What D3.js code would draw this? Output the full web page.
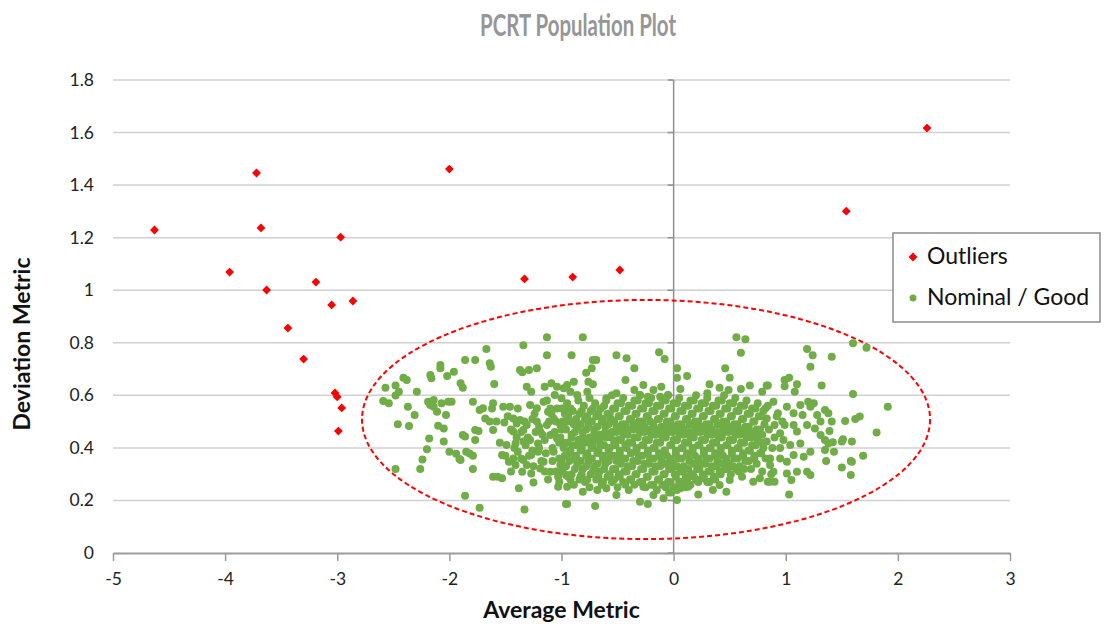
<!DOCTYPE html>
<html>
<head>
<meta charset="utf-8">
<script src="https://cdn.jsdelivr.net/npm/d3@7"></script>
<style>
  body { margin: 0; background: #fff; }
  text { font-family: Lato, "Open Sans", sans-serif; }
</style>
</head>
<body>
<svg id="chart" width="1107" height="624"></svg>
<script>
// axis ticks
var xTicks = [-5, -4, -3, -2, -1, 0, 1, 2, 3];
var yTicks = [0, 0.2, 0.4, 0.6, 0.8, 1, 1.2, 1.4, 1.6, 1.8];

// red outliers [avg, dev]
var outliers = [
  [-4.63, 1.229], [-3.96, 1.069], [-3.72, 1.446], [-3.68, 1.237], [-3.63, 1.001],
  [-3.44, 0.856], [-3.30, 0.738], [-3.19, 1.031], [-3.05, 0.944], [-3.02, 0.609],
  [-3.00, 0.594], [-2.97, 1.202], [-2.96, 0.552], [-2.99, 0.464], [-2.86, 0.959],
  [-2.00, 1.461], [-1.33, 1.043], [-0.90, 1.050], [-0.48, 1.077], [1.54, 1.301],
  [2.26, 1.617]
];

// green nominal points, outer / sparse part [avg, dev]
var nominalOuter = [
  [-2.57,0.629],[-2.48,0.637],[-2.41,0.667],[-2.38,0.658],[-2.45,0.614],[-2.48,0.599],[-2.59,0.578],
  [-2.54,0.570],[-2.29,0.614],[-2.37,0.557],[-2.46,0.490],[-2.36,0.483],[-2.31,0.525],[-2.48,0.320],
  [-2.26,0.320],[-2.24,0.356],[-2.20,0.395],[-2.18,0.436],[-2.08,0.715],[-2.08,0.703],[-2.17,0.677],
  [-2.16,0.665],[-2.19,0.576],[-2.14,0.582],[-2.17,0.563],[-2.14,0.557],[-2.11,0.538],[-2.07,0.570],
  [-2.03,0.525],[-2.01,0.576],[-1.98,0.576],[-2.02,0.674],[-1.96,0.690],[-2.10,0.484],[-2.05,0.474],
  [-2.05,0.424],[-2.00,0.385],[-1.94,0.378],[-1.91,0.358],[-1.90,0.646],[-1.88,0.629],[-1.86,0.734],
  [-1.86,0.218],[-1.88,0.449],[-1.85,0.385],
  [-1.77,0.734],[-1.67,0.776],[-1.64,0.722],[-1.63,0.709],[-1.34,0.791],[-1.13,0.821],[-1.13,0.753],
  [-1.37,0.696],[-1.35,0.688],[-1.29,0.696],[-1.22,0.703],[-1.60,0.643],[-1.79,0.576],[-1.61,0.570],
  [-1.73,0.544],[-1.70,0.551],[-1.68,0.512],[-1.64,0.500],[-1.61,0.468],[-1.77,0.468],[-1.74,0.464],
  [-1.86,0.443],[-1.77,0.430],[-1.82,0.379],[-1.79,0.370],[-1.79,0.320],[-1.73,0.172],[-1.33,0.166],
  [-1.61,0.290],[-1.57,0.290],[-1.53,0.284],[-1.38,0.246],[-1.25,0.268],[-1.03,0.252],[-0.96,0.186],
  [-1.52,0.557],[-1.46,0.557],[-1.51,0.497],[-1.43,0.512],[-1.37,0.506],[-1.31,0.487],[-1.28,0.563],
  [-1.22,0.551],[-1.31,0.633],[-1.27,0.614],[-1.15,0.633],[-1.09,0.646],[-1.04,0.633],[-1.06,0.601],
  [-1.16,0.576],[-1.12,0.538],[-1.43,0.462],[-1.49,0.411],[-1.41,0.417],[-1.34,0.424],[-1.28,0.430],
  [-1.53,0.373],[-1.47,0.347],[-1.41,0.335],[-1.34,0.354],[-1.27,0.373],[-1.21,0.385],[-1.16,0.347],
  [-1.10,0.309],[-1.35,0.309],[-1.27,0.303],[-1.19,0.462],[-1.13,0.487],[-1.07,0.512],[-1.01,0.487],
  [-1.04,0.436],[-0.98,0.411],[-1.07,0.385],[-1.01,0.335],[-0.96,0.297],[-1.10,0.449],[-1.22,0.500],
  [-1.39,0.385],[-1.43,0.360],[-1.31,0.335],[-1.19,0.322],[-1.21,0.417],[-1.34,0.468],[-1.40,0.493],
  [-0.97,0.551],[-1.00,0.589],[-0.95,0.639],[-1.90,0.354],
  [-1.48,0.52],[-1.45,0.47],[-1.42,0.40],[-1.39,0.55],[-1.36,0.36],[-1.33,0.50],[-1.30,0.44],
  [-1.26,0.39],[-1.24,0.53],[-1.20,0.48],[-1.18,0.35],[-1.15,0.43],[-1.13,0.58],[-1.11,0.50],
  [-1.08,0.40],[-1.06,0.46],[-1.04,0.55],[-1.02,0.36],[-1.05,0.31],[-1.12,0.28],[-1.25,0.33],
  [-1.45,0.31],[-1.55,0.42],[-1.58,0.50],[-1.50,0.37],[-1.62,0.55],
  [-1.02,0.42],[-1.05,0.50],[-1.08,0.35],[-1.10,0.55],[-1.14,0.38],[-1.17,0.45],[-1.20,0.40],
  [-1.23,0.46],[-1.26,0.51],[-1.29,0.37],[-1.32,0.41],[-1.36,0.46],[-1.40,0.44],[-1.03,0.29],
  [-1.15,0.31],[-1.09,0.53],[-1.00,0.47],
  [-0.81,0.821],[-0.91,0.753],[-0.72,0.734],[-0.69,0.734],[-0.51,0.753],[-0.42,0.741],[-0.35,0.703],
  [-0.73,0.703],[-0.78,0.686],[-0.76,0.652],[-0.72,0.642],[-0.89,0.652],[-0.13,0.764],[-0.08,0.738],
  [-0.43,0.658],[-0.35,0.620],[-0.27,0.639],[-0.18,0.620],[-0.11,0.633],[-0.98,0.627],[-0.92,0.614],
  [-0.86,0.601],[-0.77,0.614],[-0.51,0.608],[-0.60,0.589],[-0.30,0.601],[-0.23,0.595],[-0.12,0.595],
  [-0.05,0.601],
  [-0.95,0.186],[-0.70,0.179],[-0.81,0.233],[-0.68,0.240],[-0.83,0.290],[-0.51,0.221],[-0.30,0.195],
  [-0.23,0.186],[-0.18,0.221],[-0.09,0.208],[-0.27,0.252],[-0.60,0.246],[-0.95,0.252],
  [0.56,0.821],[0.64,0.813],[0.60,0.762],[0.03,0.703],[0.03,0.667],[0.12,0.674],[0.06,0.624],
  [0.46,0.703],[0.50,0.667],[0.32,0.642],[0.41,0.629],[0.49,0.620],[0.60,0.624],[0.68,0.637],
  [0.30,0.608],[0.79,0.614],[0.83,0.637],
  [0.03,0.202],[0.22,0.223],[0.35,0.240],[0.47,0.233],[0.41,0.259],[0.13,0.252],[0.06,0.246],
  [0.71,0.271],[0.77,0.284],[0.84,0.271],[0.50,0.278],[0.26,0.284],[0.18,0.290],
  [1.19,0.776],[1.24,0.753],[1.41,0.747],[1.22,0.709],[1.60,0.798],[1.72,0.781],[0.99,0.658],
  [1.03,0.667],[0.99,0.635],[1.10,0.642],[1.08,0.614],[1.32,0.637],[0.84,0.637],[1.60,0.605],
  [0.89,0.576],[1.01,0.557],[1.13,0.563],[1.20,0.576],[1.25,0.570],[1.22,0.557],[1.07,0.532],
  [1.15,0.525],[1.35,0.544],[1.38,0.532],[1.28,0.525],[1.53,0.502],[1.62,0.510],[1.66,0.519],
  [1.31,0.500],[1.41,0.500],[1.39,0.464],[1.26,0.474],[1.19,0.487],[1.07,0.487],[0.99,0.487],
  [0.90,0.487],[0.95,0.456],[1.10,0.462],[1.31,0.449],[1.35,0.430],[1.38,0.417],[1.42,0.421],
  [1.50,0.424],[1.51,0.433],[1.59,0.424],[1.35,0.392],[1.43,0.385],[1.22,0.385],[1.13,0.417],
  [1.04,0.411],[0.98,0.430],[1.36,0.350],[1.50,0.325],[1.58,0.350],[1.58,0.297],[1.69,0.370],
  [1.16,0.366],[1.07,0.373],[0.95,0.360],[1.01,0.347],[0.86,0.335],[0.89,0.309],[1.01,0.303],
  [1.10,0.309],[1.19,0.309],[1.22,0.297],[1.05,0.278],[0.86,0.271],[0.90,0.271],[1.03,0.223],
  [0.83,0.424],[0.82,0.551],[0.93,0.532],[0.83,0.512],[1.91,0.557],[1.81,0.459],[1.59,0.347],
  [0.85,0.47],[0.88,0.40],[0.92,0.52],[0.86,0.36],[0.90,0.44],[0.95,0.40],[0.97,0.50],[0.84,0.56],[0.87,0.30]
];

// green nominal points, dense core [avg, dev]
var nominalCore = [
  [-1.00,0.55],[-0.99,0.50],[-1.01,0.44],[-0.98,0.40],[-1.00,0.35],[-0.99,0.31],[-1.02,0.27],
  [-0.95,0.57],[-0.94,0.52],[-0.96,0.47],[-0.95,0.42],[-0.93,0.38],[-0.96,0.33],[-0.94,0.29],
  [-0.90,0.54],[-0.89,0.49],[-0.91,0.45],[-0.90,0.41],[-0.88,0.36],[-0.91,0.30],[-0.89,0.26],
  [-0.85,0.58],[-0.84,0.53],[-0.86,0.48],[-0.85,0.43],[-0.83,0.39],[-0.86,0.34],[-0.84,0.28],
  [-0.80,0.56],[-0.79,0.51],[-0.81,0.46],[-0.80,0.42],[-0.78,0.37],[-0.81,0.32],[-0.79,0.27],
  [-0.75,0.59],[-0.74,0.54],[-0.76,0.49],[-0.75,0.44],[-0.73,0.40],[-0.76,0.35],[-0.74,0.30],[-0.75,0.25],
  [-0.70,0.57],[-0.69,0.52],[-0.71,0.47],[-0.70,0.43],[-0.68,0.38],[-0.71,0.33],[-0.69,0.28],
  [-0.65,0.55],[-0.64,0.50],[-0.66,0.45],[-0.65,0.41],[-0.63,0.36],[-0.66,0.31],[-0.64,0.26],
  [-0.60,0.58],[-0.59,0.53],[-0.61,0.48],[-0.60,0.44],[-0.58,0.39],[-0.61,0.34],[-0.59,0.29],
  [-0.55,0.60],[-0.54,0.55],[-0.56,0.51],[-0.55,0.46],[-0.53,0.42],[-0.56,0.37],[-0.54,0.32],[-0.55,0.27],
  [-0.50,0.57],[-0.49,0.52],[-0.51,0.48],[-0.50,0.43],[-0.48,0.39],[-0.51,0.35],[-0.49,0.30],[-0.50,0.25],
  [-0.45,0.59],[-0.44,0.54],[-0.46,0.49],[-0.45,0.45],[-0.43,0.41],[-0.46,0.36],[-0.44,0.31],[-0.45,0.27],
  [-0.40,0.56],[-0.39,0.51],[-0.41,0.47],[-0.40,0.42],[-0.38,0.38],[-0.41,0.33],[-0.39,0.28],[-0.40,0.24],
  [-0.35,0.58],[-0.34,0.53],[-0.36,0.49],[-0.35,0.44],[-0.33,0.40],[-0.36,0.35],[-0.34,0.30],[-0.35,0.26],
  [-0.30,0.60],[-0.29,0.55],[-0.31,0.50],[-0.30,0.46],[-0.28,0.41],[-0.31,0.37],[-0.29,0.32],[-0.30,0.27],
  [-0.25,0.57],[-0.24,0.52],[-0.26,0.48],[-0.25,0.43],[-0.23,0.39],[-0.26,0.34],[-0.24,0.29],[-0.25,0.25],
  [-0.20,0.59],[-0.19,0.54],[-0.21,0.50],[-0.20,0.45],[-0.18,0.40],[-0.21,0.36],[-0.19,0.31],[-0.20,0.26],
  [-0.15,0.56],[-0.14,0.51],[-0.16,0.47],[-0.15,0.42],[-0.13,0.38],[-0.16,0.33],[-0.14,0.28],[-0.15,0.24],
  [-0.10,0.58],[-0.09,0.53],[-0.11,0.48],[-0.10,0.44],[-0.08,0.39],[-0.11,0.35],[-0.09,0.30],[-0.10,0.26],
  [-0.05,0.60],[-0.04,0.55],[-0.06,0.50],[-0.05,0.46],[-0.03,0.41],[-0.06,0.37],[-0.04,0.32],[-0.05,0.27],[-0.04,0.23],
  [0.00,0.57],[0.01,0.52],[-0.01,0.48],[0.00,0.43],[0.02,0.39],[-0.01,0.34],[0.01,0.30],[0.00,0.25],
  [0.05,0.59],[0.06,0.54],[0.04,0.49],[0.05,0.45],[0.07,0.40],[0.04,0.36],[0.06,0.31],[0.05,0.27],
  [0.10,0.56],[0.11,0.51],[0.09,0.47],[0.10,0.42],[0.12,0.38],[0.09,0.33],[0.11,0.29],[0.10,0.25],
  [0.15,0.58],[0.16,0.53],[0.14,0.49],[0.15,0.44],[0.17,0.40],[0.14,0.35],[0.16,0.30],[0.15,0.26],
  [0.20,0.60],[0.21,0.55],[0.19,0.50],[0.20,0.46],[0.22,0.41],[0.19,0.37],[0.21,0.32],[0.20,0.28],
  [0.25,0.57],[0.26,0.52],[0.24,0.48],[0.25,0.43],[0.27,0.39],[0.24,0.34],[0.26,0.30],
  [0.30,0.59],[0.31,0.54],[0.29,0.49],[0.30,0.45],[0.32,0.40],[0.29,0.36],[0.31,0.31],[0.30,0.27],
  [0.35,0.56],[0.36,0.51],[0.34,0.47],[0.35,0.42],[0.37,0.38],[0.34,0.33],[0.36,0.29],
  [0.40,0.58],[0.41,0.53],[0.39,0.49],[0.40,0.44],[0.42,0.40],[0.39,0.35],[0.41,0.31],
  [0.45,0.60],[0.46,0.55],[0.44,0.50],[0.45,0.46],[0.47,0.41],[0.44,0.37],[0.46,0.32],
  [0.50,0.57],[0.51,0.52],[0.49,0.48],[0.50,0.43],[0.52,0.39],[0.49,0.34],[0.51,0.30],
  [0.55,0.59],[0.56,0.54],[0.54,0.49],[0.55,0.45],[0.57,0.40],[0.54,0.36],[0.56,0.32],
  [0.60,0.56],[0.61,0.51],[0.59,0.47],[0.60,0.42],[0.62,0.38],[0.59,0.33],[0.61,0.29],
  [0.65,0.58],[0.66,0.53],[0.64,0.48],[0.65,0.44],[0.67,0.39],[0.64,0.35],
  [0.70,0.55],[0.71,0.50],[0.69,0.46],[0.70,0.41],[0.72,0.37],[0.69,0.32],
  [0.75,0.57],[0.76,0.52],[0.74,0.47],[0.75,0.43],[0.77,0.38],[0.74,0.34],
  [0.80,0.54],[0.81,0.49],[0.79,0.45],[0.80,0.40],[0.82,0.36],[0.79,0.31]
];

// green nominal points, dense core filling between the rows above [avg, dev]
var nominalCoreFill = [
  [-0.97,0.53],[-0.98,0.48],[-0.96,0.42],[-0.97,0.37],[-0.98,0.33],
  [-0.92,0.55],[-0.93,0.50],[-0.91,0.44],[-0.92,0.39],[-0.93,0.35],[-0.92,0.28],
  [-0.87,0.51],[-0.88,0.46],[-0.86,0.41],[-0.87,0.37],[-0.88,0.32],
  [-0.82,0.54],[-0.83,0.49],[-0.81,0.44],[-0.82,0.40],[-0.83,0.35],[-0.82,0.30],
  [-0.77,0.52],[-0.78,0.47],[-0.76,0.42],[-0.77,0.38],[-0.78,0.33],[-0.77,0.28],
  [-0.72,0.55],[-0.73,0.50],[-0.71,0.45],[-0.72,0.41],[-0.73,0.36],[-0.72,0.31],
  [-0.67,0.53],[-0.68,0.48],[-0.66,0.43],[-0.67,0.39],[-0.68,0.34],[-0.67,0.29],
  [-0.62,0.56],[-0.63,0.51],[-0.61,0.46],[-0.62,0.41],[-0.63,0.37],[-0.62,0.32],[-0.63,0.27],
  [-0.57,0.53],[-0.58,0.49],[-0.56,0.44],[-0.57,0.40],[-0.58,0.35],[-0.57,0.30],
  [-0.52,0.55],[-0.53,0.50],[-0.51,0.46],[-0.52,0.41],[-0.53,0.37],[-0.52,0.32],[-0.53,0.28],
  [-0.47,0.57],[-0.48,0.52],[-0.46,0.47],[-0.47,0.43],[-0.48,0.38],[-0.47,0.34],[-0.48,0.29],
  [-0.42,0.54],[-0.43,0.49],[-0.41,0.45],[-0.42,0.40],[-0.43,0.36],[-0.42,0.31],[-0.43,0.26],
  [-0.37,0.56],[-0.38,0.51],[-0.36,0.47],[-0.37,0.42],[-0.38,0.38],[-0.37,0.33],[-0.38,0.28],
  [-0.32,0.58],[-0.33,0.53],[-0.31,0.48],[-0.32,0.44],[-0.33,0.39],[-0.32,0.35],[-0.33,0.30],
  [-0.27,0.55],[-0.28,0.50],[-0.26,0.46],[-0.27,0.41],[-0.28,0.37],[-0.27,0.32],[-0.28,0.27],
  [-0.22,0.57],[-0.23,0.52],[-0.21,0.47],[-0.22,0.43],[-0.23,0.38],[-0.22,0.34],[-0.23,0.29],
  [-0.17,0.54],[-0.18,0.49],[-0.16,0.45],[-0.17,0.40],[-0.18,0.36],[-0.17,0.31],[-0.18,0.26],
  [-0.12,0.56],[-0.13,0.51],[-0.11,0.46],[-0.12,0.42],[-0.13,0.37],[-0.12,0.33],[-0.13,0.28],
  [-0.07,0.58],[-0.08,0.53],[-0.06,0.48],[-0.07,0.44],[-0.08,0.39],[-0.07,0.34],[-0.08,0.30],[-0.07,0.25],
  [-0.02,0.55],[-0.03,0.50],[-0.01,0.46],[-0.02,0.41],[-0.03,0.36],[-0.02,0.32],[-0.03,0.27],[-0.02,0.23],
  [0.03,0.57],[0.02,0.52],[0.04,0.47],[0.03,0.43],[0.02,0.38],[0.03,0.33],[0.02,0.29],[0.03,0.24],
  [0.08,0.54],[0.07,0.49],[0.09,0.45],[0.08,0.40],[0.07,0.36],[0.08,0.31],[0.07,0.27],
  [0.13,0.56],[0.12,0.51],[0.14,0.46],[0.13,0.42],[0.12,0.37],[0.13,0.32],[0.12,0.28],
  [0.18,0.58],[0.17,0.53],[0.19,0.48],[0.18,0.44],[0.17,0.39],[0.18,0.34],[0.17,0.30],
  [0.23,0.55],[0.22,0.50],[0.24,0.46],[0.23,0.41],[0.22,0.36],[0.23,0.32],[0.22,0.27],
  [0.28,0.57],[0.27,0.52],[0.29,0.47],[0.28,0.43],[0.27,0.38],[0.28,0.34],[0.27,0.29],
  [0.33,0.54],[0.32,0.49],[0.34,0.45],[0.33,0.40],[0.32,0.36],[0.33,0.31],[0.32,0.27],
  [0.38,0.56],[0.37,0.51],[0.39,0.46],[0.38,0.42],[0.37,0.37],[0.38,0.33],[0.37,0.28],
  [0.43,0.58],[0.42,0.53],[0.44,0.48],[0.43,0.44],[0.42,0.39],[0.43,0.34],[0.42,0.30],
  [0.48,0.55],[0.47,0.50],[0.49,0.46],[0.48,0.41],[0.47,0.36],[0.48,0.32],
  [0.53,0.57],[0.52,0.52],[0.54,0.47],[0.53,0.43],[0.52,0.38],[0.53,0.33],
  [0.58,0.54],[0.57,0.49],[0.59,0.45],[0.58,0.40],[0.57,0.36],[0.58,0.31],
  [0.63,0.56],[0.62,0.51],[0.64,0.46],[0.63,0.42],[0.62,0.37],[0.63,0.32],
  [0.68,0.53],[0.67,0.48],[0.69,0.44],[0.68,0.39],[0.67,0.35],
  [0.73,0.55],[0.72,0.50],[0.74,0.45],[0.73,0.41],[0.72,0.36],
  [0.78,0.52],[0.77,0.47],[0.79,0.42],[0.78,0.38]
];

// dashed ellipse: centre avg, centre dev, half width, half height
var ellipseSpec = [-0.246, 0.508, 2.533, 0.455];

var legendItems = ["Outliers", "Nominal / Good"];

var svg = d3.select("#chart");
var x = d3.scaleLinear().domain([-5, 3]).range([113, 1010]);
var y = d3.scaleLinear().domain([0, 1.8]).range([553, 80]);

svg.append("rect").attr("width", 1107).attr("height", 624).attr("fill", "#fff");

// gridlines
svg.append("g").selectAll("line")
    .data(yTicks.filter(function(d) { return d > 0 }))
  .enter().append("line")
    .attr("x1", x(-5)).attr("x2", x(3))
    .attr("y1", function(d) { return y(d) }).attr("y2", function(d) { return y(d) })
    .attr("stroke", "#d0d0d0").attr("stroke-width", 1.5);

// vertical axis line at avg = 0 with small ticks
svg.append("line")
    .attr("x1", x(0)).attr("x2", x(0)).attr("y1", y(1.8)).attr("y2", y(0))
    .attr("stroke", "#8f8f8f").attr("stroke-width", 1.5);
svg.append("g").selectAll("line")
    .data(yTicks)
  .enter().append("line")
    .attr("x1", x(0) - 6).attr("x2", x(0))
    .attr("y1", function(d) { return y(d) }).attr("y2", function(d) { return y(d) })
    .attr("stroke", "#8f8f8f").attr("stroke-width", 1.5);

// y tick labels
svg.append("g").selectAll("text")
    .data(yTicks)
  .enter().append("text")
    .attr("x", 94).attr("y", function(d) { return y(d) + 6 })
    .attr("text-anchor", "end")
    .attr("font-size", 17.5).attr("fill", "#222")
    .text(function(d) { return d3.format("~g")(d) });

// x axis
var xAxis = svg.append("g")
    .attr("transform", "translate(0," + y(0) + ")")
    .call(d3.axisBottom(x).tickValues(xTicks).tickSize(8).tickSizeOuter(0)
      .tickFormat(d3.format("~g")));
xAxis.select(".domain").attr("stroke", "#9a9a9a").attr("stroke-width", 2);
xAxis.selectAll(".tick line").attr("stroke", "#9a9a9a").attr("stroke-width", 1.5);
xAxis.selectAll(".tick text")
    .attr("y", 20).attr("font-size", 17.5).attr("fill", "#222")
    .attr("font-family", "Lato, sans-serif")
    .text(function(d) { return String(d) });

// ellipse
svg.append("ellipse")
    .attr("cx", x(ellipseSpec[0])).attr("cy", y(ellipseSpec[1]))
    .attr("rx", x(ellipseSpec[0] + ellipseSpec[2]) - x(ellipseSpec[0]))
    .attr("ry", y(ellipseSpec[1] - ellipseSpec[3]) - y(ellipseSpec[1]))
    .attr("fill", "none").attr("stroke", "#ff0000")
    .attr("stroke-width", 2).attr("stroke-dasharray", "5,3");

// nominal points
svg.append("g").selectAll("circle")
    .data(nominalOuter.concat(nominalCore, nominalCoreFill))
  .enter().append("circle")
    .attr("cx", function(d) { return x(d[0]) })
    .attr("cy", function(d) { return y(d[1]) })
    .attr("r", 4)
    .attr("fill", "#70ad47");

// outliers
var diamond = d3.symbol().type(d3.symbolDiamond2).size(50);
svg.append("g").selectAll("path")
    .data(outliers)
  .enter().append("path")
    .attr("d", diamond)
    .attr("transform", function(d) { return "translate(" + x(d[0]) + "," + y(d[1]) + ")" })
    .attr("fill", "#ff0000");

// title
svg.append("text")
    .attr("x", 578).attr("y", 36)
    .attr("text-anchor", "middle")
    .attr("font-family", "Roboto, sans-serif")
    .attr("font-weight", "bold").attr("font-size", 30)
    .attr("fill", "#969696")
    .attr("textLength", 196).attr("lengthAdjust", "spacingAndGlyphs")
    .text("PCRT Population Plot");

// axis titles
svg.append("text")
    .attr("x", x(-1)).attr("y", 618)
    .attr("text-anchor", "middle")
    .attr("font-weight", "bold").attr("font-size", 23).attr("fill", "#111")
    .text("Average Metric");
svg.append("text")
    .attr("transform", "translate(30,344) rotate(-90)")
    .attr("text-anchor", "middle")
    .attr("font-weight", "bold").attr("font-size", 23).attr("fill", "#111")
    .text("Deviation Metric");

// legend
var legend = svg.append("g").attr("transform", "translate(893,233)");
legend.append("rect")
    .attr("width", 207).attr("height", 89)
    .attr("fill", "#fff").attr("stroke", "#8a8a8a").attr("stroke-width", 1.5);
legend.append("path")
    .attr("d", d3.symbol().type(d3.symbolDiamond2).size(50))
    .attr("transform", "translate(20,24)").attr("fill", "#ff0000");
legend.append("circle")
    .attr("cx", 20).attr("cy", 65).attr("r", 3.5).attr("fill", "#70ad47");
legend.selectAll("text.item")
    .data(legendItems)
  .enter().append("text")
    .attr("class", "item")
    .attr("x", 34).attr("y", function(d, i) { return 31 + i * 41 })
    .attr("font-size", 23).attr("fill", "#111")
    .text(function(d) { return d });
</script>
</body>
</html>
